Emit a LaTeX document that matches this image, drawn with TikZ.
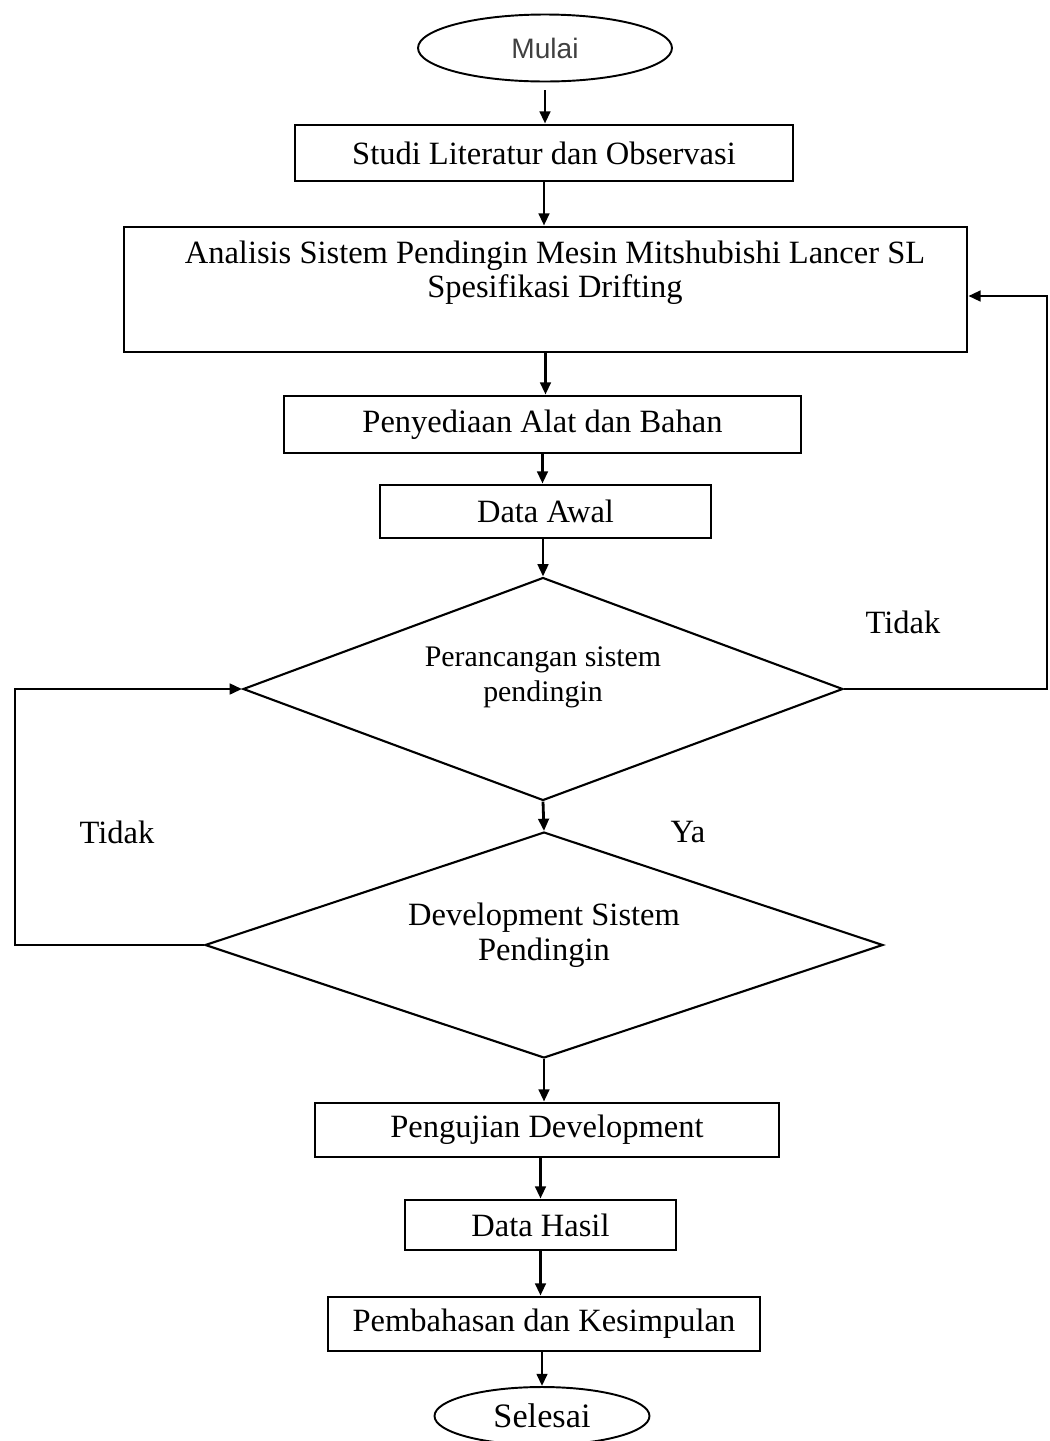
\documentclass[tikz,border=0pt]{standalone}
\usepackage{fontspec}
\setmainfont{Liberation Serif}
\newfontfamily\mulaifont{Liberation Sans}
\usetikzlibrary{arrows.meta}
\usetikzlibrary{shapes.geometric,positioning}
\tikzset{
    kotak/.style={
        draw,
        line width=1.6pt,
        rectangle,
        inner sep=0pt,
        font=\fontsize{18.5}{22}\selectfont
    },
    keputusan/.style={
        draw,
        line width=1.2pt,
        diamond,
        aspect=2.7,
        inner sep=0pt,
        align=center
    },
    terminal/.style={
        draw,
        line width=1.1pt,
        ellipse,
        inner sep=0pt
    },
    panah/.style={
        line width=1.6pt,
        -{Triangle[length=7pt, width=6pt]}
    },
    teks/.style={
        font=\fontsize{18.5}{22}\selectfont
    }
}
\begin{document}
\begin{tikzpicture}[x=0.02cm,y=-0.02cm]
    \useasboundingbox (0,0) rectangle (1049,1441);
    \clip (0,0) rectangle (1049,1441);

    \node[terminal,minimum width=5.08cm,minimum height=1.34cm,
        font=\mulaifont\fontsize{16}{18}\selectfont,text=black!75] (mulai) at (545,48) {Mulai};
    \node[kotak,minimum width=9.96cm,minimum height=1.12cm] (studi) at (544,153)
        {Studi Literatur dan Observasi};
    \node[kotak,minimum width=16.86cm,minimum height=2.5cm] (analisis) at (545.5,289.5) {};
    \node[align=center,font=\fontsize{18.5}{19.5}\selectfont] (analisisTeks) at (555,273)
        {Analisis Sistem Pendingin Mesin Mitshubishi Lancer SL\\Spesifikasi Drifting};
    \node[kotak,minimum width=10.34cm,minimum height=1.14cm] (penyediaan) at (542.5,424.5)
        {Penyediaan Alat dan Bahan};
    \node[kotak,minimum width=6.62cm,minimum height=1.06cm] (dataawal) at (545.5,511.5)
        {Data Awal};
    \node[keputusan,minimum width=12cm,minimum height=4.46cm,
        font=\fontsize{17}{20}\selectfont] (perancangan) at (543,689)
        {Perancangan sistem\\pendingin\\[-3.5pt]};
    \node[keputusan,minimum width=13.56cm,minimum height=4.52cm,
        font=\fontsize{18.5}{20}\selectfont] (development) at (544,945)
        {Development Sistem\\Pendingin\\[-5pt]};
    \node[kotak,minimum width=9.28cm,minimum height=1.08cm] (pengujian) at (547,1130)
        {Pengujian Development};
    \node[kotak,minimum width=5.42cm,minimum height=1cm] (hasil) at (540.5,1225)
        {Data Hasil};
    \node[kotak,minimum width=8.64cm,minimum height=1.08cm] (pembahasan) at (544,1324)
        {Pembahasan dan Kesimpulan};
    \node[terminal,minimum width=4.3cm,minimum height=1.16cm,
        font=\fontsize{19.5}{22}\selectfont] (selesai) at (542,1416)
        {Selesai};

    % label cabang
    \node[teks] (tidakKanan) at (903,622) {Tidak};
    \node[teks] (ya) at (688,832) {Ya};
    \node[teks] (tidakKiri) at (117,832) {Tidak};

    \coordinate (kanan) at (1047,689);
    \coordinate (kiri) at (15,945);

    % alur utama
    \draw[panah] ([yshift=-4.5pt]mulai.south) -- (mulai.south |- studi.north);
    \draw[panah] (studi.south) -- (studi.south |- analisis.north);
    \draw[panah] (analisis.south) -- (analisis.south |- penyediaan.north);
    \draw[panah] (penyediaan.south) -- (penyediaan.south |- dataawal.north);
    \draw[panah] (dataawal.south -| perancangan.north) -- (perancangan.north);
    \draw[panah] (perancangan.south) -- (development.north);
    \draw[panah] (development.south) -- (development.south |- pengujian.north);
    \draw[panah] (pengujian.south -| hasil.north) -- (hasil.north);
    \draw[panah] (hasil.south) -- (hasil.south |- pembahasan.north);
    \draw[panah] (pembahasan.south -| selesai.north) -- (selesai.north);

    % umpan balik
    \draw[panah] (perancangan.east) -- (kanan) |- ([yshift=-0.13cm]analisis.east);
    \draw[panah] (development.west) -- (kiri) |- (perancangan.west);
\end{tikzpicture}
\end{document}
